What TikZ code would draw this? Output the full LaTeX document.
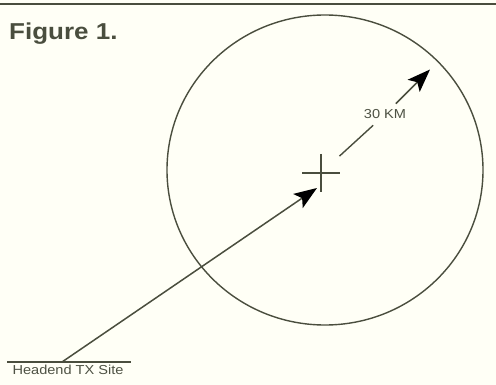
\documentclass[tikz,border=0pt]{standalone}
\usepackage{fontspec}
\setmainfont{Liberation Sans}
\usetikzlibrary{arrows.meta, calc}
\definecolor{paper}{RGB}{255,255,246}
\definecolor{ink}{RGB}{74,78,62}
\definecolor{inktext}{RGB}{78,82,68}

\begin{document}
\begin{tikzpicture}[
    x=1pt, y=-1pt,
    caption/.style={font=\bfseries\fontsize{23}{26}\selectfont, text=ink,
        inner sep=0pt, xscale=1.13},
    tag/.style={font=\fontsize{13}{15}\selectfont, text=inktext,
        inner sep=0pt, xscale=1.12},
    ring/.style={draw=ink, line width=1.4pt},
    arrow/.style={-{Stealth[length=23pt, width=17pt, inset=5pt, color=black]},
        draw=ink, line width=1.5pt}
]
\fill[paper] (0,0) rectangle (496,385);
\useasboundingbox (0,0) rectangle (496,385);

% frame rule and title
\draw[ink, line width=1.8pt] (0,4) -- (496,4);
\node[caption, anchor=base west] (title) at (9,39.3) {Figure 1.};

% coverage area
\draw[ring] (325,170) ellipse [x radius=158, y radius=155];

% transmitter site
\coordinate (tx) at (321,173);
\draw[ring] ($(tx)+(-19,0)$) -- ($(tx)+(19,0)$);
\draw[ring] ($(tx)+(0,-19)$) -- ($(tx)+(0,19)$);

% headend
\node[tag, anchor=base] (site) at (68,374.3) {Headend TX Site};
\coordinate (siteL) at (7,362);
\coordinate (siteR) at (131,362);
\coordinate (foot) at (62,362);
\draw[ring, line width=1.2pt] (siteL) -- (siteR);

% link to site
\coordinate (hit) at (317,188);
\draw[arrow] (foot) -- (hit);

% radius
\node[tag, inner sep=6pt] (km) at (385,114.5) {30 KM};
\coordinate (reach) at (430,69.5);
\draw[ring, shorten <=25pt] (tx) -- (km);
\draw[arrow] (km) -- (reach);

\end{tikzpicture}
\end{document}
